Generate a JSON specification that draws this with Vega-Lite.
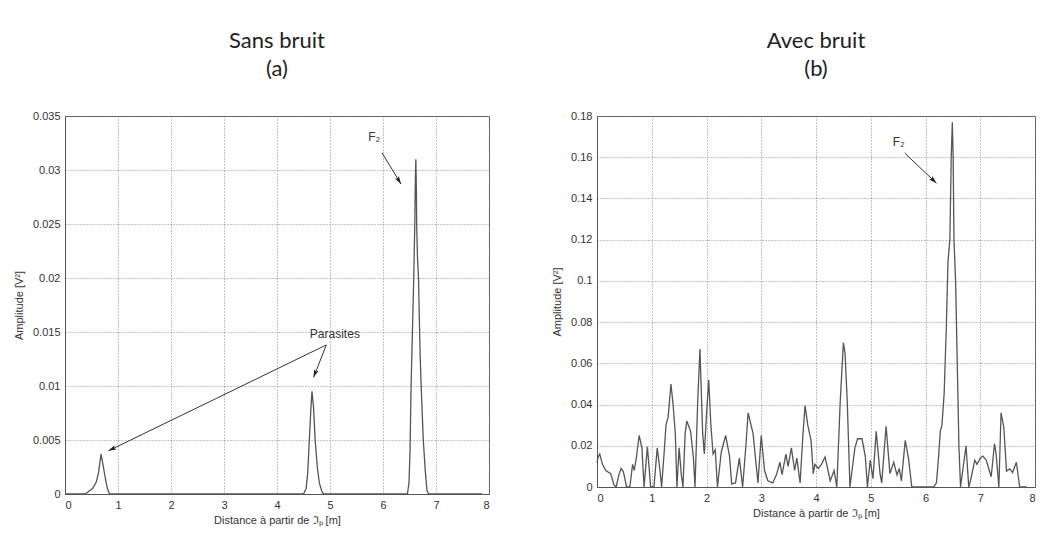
{
  "$schema": "https://vega.github.io/schema/vega-lite/v6.json",
  "padding": {"left": 12, "top": 29, "right": 0, "bottom": 5},
  "background": "white",
  "config": {
    "font": "Liberation Sans",
    "view": {"stroke": "#555", "strokeWidth": 1},
    "axis": {
      "labelFont": "Liberation Sans", "labelFontSize": 11, "labelColor": "#333",
      "titleFont": "Liberation Sans", "titleFontSize": 11, "titleFontWeight": "normal", "titleColor": "#333",
      "domainColor": "#555", "ticks": false, "labelPadding": 5,
      "gridColor": "#888", "gridDash": [1, 2], "gridOpacity": 1, "gridWidth": 1
    },
    "title": {"font": "Lato", "fontSize": 22, "fontWeight": "normal", "color": "#222", "lineHeight": 28, "anchor": "middle"}
  },
  "datasets": {
    "sans": [
      {"d": 0, "a": 0}, {"d": 0.38, "a": 0}, {"d": 0.44, "a": 0.0002}, {"d": 0.52, "a": 0.0005}, {"d": 0.59, "a": 0.0011},
      {"d": 0.63, "a": 0.0019}, {"d": 0.66, "a": 0.003}, {"d": 0.68, "a": 0.0037}, {"d": 0.71, "a": 0.0029}, {"d": 0.76, "a": 0.0015},
      {"d": 0.8, "a": 0.0005}, {"d": 0.84, "a": 0}, {"d": 4.5, "a": 0}, {"d": 4.55, "a": 0.0005}, {"d": 4.58, "a": 0.002},
      {"d": 4.61, "a": 0.005}, {"d": 4.64, "a": 0.008}, {"d": 4.66, "a": 0.0095}, {"d": 4.69, "a": 0.008}, {"d": 4.72, "a": 0.005},
      {"d": 4.76, "a": 0.0025}, {"d": 4.8, "a": 0.001}, {"d": 4.85, "a": 0.0002}, {"d": 4.88, "a": 0}, {"d": 6.46, "a": 0},
      {"d": 6.49, "a": 0.001}, {"d": 6.51, "a": 0.004}, {"d": 6.53, "a": 0.01}, {"d": 6.56, "a": 0.016}, {"d": 6.58, "a": 0.02},
      {"d": 6.6, "a": 0.025}, {"d": 6.61, "a": 0.029}, {"d": 6.62, "a": 0.031}, {"d": 6.63, "a": 0.028}, {"d": 6.635, "a": 0.025},
      {"d": 6.65, "a": 0.022}, {"d": 6.67, "a": 0.02}, {"d": 6.7, "a": 0.013}, {"d": 6.72, "a": 0.01}, {"d": 6.76, "a": 0.005},
      {"d": 6.8, "a": 0.002}, {"d": 6.83, "a": 0.0003}, {"d": 6.86, "a": 0}, {"d": 7.87, "a": 0}
    ],
    "avec": [
      {"d": 0.0, "a": 0.012}, {"d": 0.02, "a": 0.0145}, {"d": 0.05, "a": 0.016}, {"d": 0.1, "a": 0.011}, {"d": 0.16, "a": 0.008},
      {"d": 0.25, "a": 0.0065}, {"d": 0.31, "a": 0.001}, {"d": 0.35, "a": 0.0}, {"d": 0.4, "a": 0.006}, {"d": 0.44, "a": 0.009},
      {"d": 0.48, "a": 0.0075}, {"d": 0.51, "a": 0.004}, {"d": 0.54, "a": 0.0}, {"d": 0.6, "a": 0.0}, {"d": 0.65, "a": 0.011},
      {"d": 0.68, "a": 0.008}, {"d": 0.72, "a": 0.0145}, {"d": 0.77, "a": 0.025}, {"d": 0.82, "a": 0.019}, {"d": 0.86, "a": 0.0},
      {"d": 0.92, "a": 0.0195}, {"d": 0.95, "a": 0.01}, {"d": 0.98, "a": 0.0}, {"d": 1.04, "a": 0.0}, {"d": 1.1, "a": 0.019},
      {"d": 1.15, "a": 0.008}, {"d": 1.18, "a": 0.0}, {"d": 1.23, "a": 0.018}, {"d": 1.26, "a": 0.03}, {"d": 1.3, "a": 0.034},
      {"d": 1.35, "a": 0.05}, {"d": 1.39, "a": 0.04}, {"d": 1.43, "a": 0.026}, {"d": 1.46, "a": 0.0}, {"d": 1.5, "a": 0.019},
      {"d": 1.54, "a": 0.006}, {"d": 1.57, "a": 0.0}, {"d": 1.61, "a": 0.026}, {"d": 1.64, "a": 0.032}, {"d": 1.71, "a": 0.027},
      {"d": 1.76, "a": 0.0145}, {"d": 1.79, "a": 0.0}, {"d": 1.84, "a": 0.042}, {"d": 1.88, "a": 0.067}, {"d": 1.93, "a": 0.026},
      {"d": 1.96, "a": 0.016}, {"d": 2.0, "a": 0.035}, {"d": 2.04, "a": 0.052}, {"d": 2.08, "a": 0.03}, {"d": 2.12, "a": 0.016},
      {"d": 2.16, "a": 0.018}, {"d": 2.2, "a": 0.0}, {"d": 2.27, "a": 0.017}, {"d": 2.35, "a": 0.025}, {"d": 2.42, "a": 0.015},
      {"d": 2.46, "a": 0.0015}, {"d": 2.53, "a": 0.002}, {"d": 2.6, "a": 0.014}, {"d": 2.66, "a": 0.0}, {"d": 2.72, "a": 0.02},
      {"d": 2.76, "a": 0.036}, {"d": 2.85, "a": 0.026}, {"d": 2.94, "a": 0.002}, {"d": 3.0, "a": 0.025}, {"d": 3.06, "a": 0.008},
      {"d": 3.12, "a": 0.003}, {"d": 3.21, "a": 0.002}, {"d": 3.28, "a": 0.006}, {"d": 3.34, "a": 0.012}, {"d": 3.38, "a": 0.006},
      {"d": 3.45, "a": 0.016}, {"d": 3.49, "a": 0.01}, {"d": 3.55, "a": 0.019}, {"d": 3.61, "a": 0.008}, {"d": 3.65, "a": 0.014},
      {"d": 3.71, "a": 0.002}, {"d": 3.76, "a": 0.025}, {"d": 3.8, "a": 0.0395}, {"d": 3.85, "a": 0.03}, {"d": 3.91, "a": 0.0225},
      {"d": 3.95, "a": 0.0065}, {"d": 3.98, "a": 0.011}, {"d": 4.04, "a": 0.009}, {"d": 4.1, "a": 0.011}, {"d": 4.165, "a": 0.0146},
      {"d": 4.22, "a": 0.008}, {"d": 4.26, "a": 0.003}, {"d": 4.33, "a": 0.008}, {"d": 4.38, "a": 0.0}, {"d": 4.44, "a": 0.04},
      {"d": 4.5, "a": 0.07}, {"d": 4.53, "a": 0.065}, {"d": 4.57, "a": 0.042}, {"d": 4.62, "a": 0.0}, {"d": 4.71, "a": 0.019},
      {"d": 4.76, "a": 0.0234}, {"d": 4.84, "a": 0.0234}, {"d": 4.9, "a": 0.015}, {"d": 4.94, "a": 0.0}, {"d": 4.99, "a": 0.013},
      {"d": 5.04, "a": 0.004}, {"d": 5.1, "a": 0.027}, {"d": 5.17, "a": 0.0065}, {"d": 5.2, "a": 0.002}, {"d": 5.28, "a": 0.0295},
      {"d": 5.35, "a": 0.0065}, {"d": 5.42, "a": 0.012}, {"d": 5.48, "a": 0.0058}, {"d": 5.52, "a": 0.009}, {"d": 5.56, "a": 0.003},
      {"d": 5.63, "a": 0.0226}, {"d": 5.69, "a": 0.0138}, {"d": 5.75, "a": 0.0}, {"d": 5.8, "a": 0.0}, {"d": 6.15, "a": 0.0},
      {"d": 6.2, "a": 0.002}, {"d": 6.24, "a": 0.015}, {"d": 6.27, "a": 0.027}, {"d": 6.3, "a": 0.03}, {"d": 6.34, "a": 0.045},
      {"d": 6.38, "a": 0.077}, {"d": 6.41, "a": 0.109}, {"d": 6.445, "a": 0.12}, {"d": 6.47, "a": 0.16}, {"d": 6.49, "a": 0.177},
      {"d": 6.505, "a": 0.16}, {"d": 6.52, "a": 0.12}, {"d": 6.55, "a": 0.1}, {"d": 6.58, "a": 0.06}, {"d": 6.61, "a": 0.02},
      {"d": 6.64, "a": 0.0}, {"d": 6.74, "a": 0.02}, {"d": 6.79, "a": 0.0}, {"d": 6.83, "a": 0.004}, {"d": 6.9, "a": 0.013},
      {"d": 6.94, "a": 0.011}, {"d": 7.0, "a": 0.014}, {"d": 7.05, "a": 0.015}, {"d": 7.11, "a": 0.013}, {"d": 7.2, "a": 0.005},
      {"d": 7.26, "a": 0.021}, {"d": 7.29, "a": 0.016}, {"d": 7.34, "a": 0.0}, {"d": 7.38, "a": 0.036}, {"d": 7.43, "a": 0.029},
      {"d": 7.48, "a": 0.0077}, {"d": 7.54, "a": 0.0088}, {"d": 7.59, "a": 0.007}, {"d": 7.66, "a": 0.012}, {"d": 7.72, "a": 0.0},
      {"d": 7.85, "a": 0.0}
    ]
  },
  "hconcat": [
    {
      "width": 424, "height": 378,
      "title": {"text": ["Sans bruit", "(a)"], "offset": 29},
      "layer": [
        {
          "data": {"name": "sans"},
          "mark": {"type": "line", "color": "#555", "strokeWidth": 1.3},
          "encoding": {
            "x": {"field": "d", "type": "quantitative", "scale": {"domain": [0, 8], "nice": false},
                  "axis": {"values": [0, 1, 2, 3, 4, 5, 6, 7, 8], "format": "d", "title": "Distance à partir de ℑₚ [m]", "titlePadding": 4}},
            "y": {"field": "a", "type": "quantitative", "scale": {"domain": [0, 0.035], "nice": false},
                  "axis": {"values": [0, 0.005, 0.01, 0.015, 0.02, 0.025, 0.03, 0.035], "format": "~f", "title": "Amplitude [V²]", "titlePadding": 8}}
          }
        },
        {
          "data": {"values": [
            {"x1": 5.98, "y1": 0.0316, "x2": 6.34, "y2": 0.0287},
            {"x1": 4.93, "y1": 0.0138, "x2": 4.69, "y2": 0.0108},
            {"x1": 4.93, "y1": 0.0138, "x2": 0.82, "y2": 0.004}
          ]},
          "mark": {"type": "rule", "color": "#333", "strokeWidth": 1},
          "encoding": {
            "x": {"field": "x1", "type": "quantitative"}, "y": {"field": "y1", "type": "quantitative"},
            "x2": {"field": "x2"}, "y2": {"field": "y2"}
          }
        },
        {
          "data": {"values": [{"x": 6.34, "y": 0.0287}]},
          "mark": {"type": "point", "shape": "M0,0L-0.45,1.5L0,1.2L0.45,1.5Z", "size": 110, "filled": true, "color": "#222", "opacity": 1, "angle": 148},
          "encoding": {"x": {"field": "x", "type": "quantitative"}, "y": {"field": "y", "type": "quantitative"}}
        },
        {
          "data": {"values": [{"x": 4.69, "y": 0.0108}]},
          "mark": {"type": "point", "shape": "M0,0L-0.45,1.5L0,1.2L0.45,1.5Z", "size": 110, "filled": true, "color": "#222", "opacity": 1, "angle": 201},
          "encoding": {"x": {"field": "x", "type": "quantitative"}, "y": {"field": "y", "type": "quantitative"}}
        },
        {
          "data": {"values": [{"x": 0.82, "y": 0.004}]},
          "mark": {"type": "point", "shape": "M0,0L-0.45,1.5L0,1.2L0.45,1.5Z", "size": 110, "filled": true, "color": "#222", "opacity": 1, "angle": 244},
          "encoding": {"x": {"field": "x", "type": "quantitative"}, "y": {"field": "y", "type": "quantitative"}}
        },
        {
          "data": {"values": [{"x": 5.72, "y": 0.0331, "t": "F₂"}, {"x": 4.62, "y": 0.0148, "t": "Parasites"}]},
          "mark": {"type": "text", "align": "left", "baseline": "middle", "font": "Liberation Sans", "fontSize": 12, "color": "#333"},
          "encoding": {"x": {"field": "x", "type": "quantitative"}, "y": {"field": "y", "type": "quantitative"}, "text": {"field": "t"}}
        }
      ]
    },
    {
      "width": 438, "height": 371,
      "title": {"text": ["Avec bruit", "(b)"], "offset": 29},
      "layer": [
        {
          "data": {"name": "avec"},
          "mark": {"type": "line", "color": "#555", "strokeWidth": 1.3},
          "encoding": {
            "x": {"field": "d", "type": "quantitative", "scale": {"domain": [0, 8], "nice": false},
                  "axis": {"values": [0, 1, 2, 3, 4, 5, 6, 7, 8], "format": "d", "title": "Distance à partir de ℑₚ [m]", "titlePadding": 4}},
            "y": {"field": "a", "type": "quantitative", "scale": {"domain": [0, 0.18], "nice": false},
                  "axis": {"values": [0, 0.02, 0.04, 0.06, 0.08, 0.1, 0.12, 0.14, 0.16, 0.18], "format": "~f", "title": "Amplitude [V²]", "titlePadding": 8}}
          }
        },
        {
          "data": {"values": [{"x1": 5.62, "y1": 0.162, "x2": 6.2, "y2": 0.1474}]},
          "mark": {"type": "rule", "color": "#333", "strokeWidth": 1},
          "encoding": {
            "x": {"field": "x1", "type": "quantitative"}, "y": {"field": "y1", "type": "quantitative"},
            "x2": {"field": "x2"}, "y2": {"field": "y2"}
          }
        },
        {
          "data": {"values": [{"x": 6.2, "y": 0.1474}]},
          "mark": {"type": "point", "shape": "M0,0L-0.45,1.5L0,1.2L0.45,1.5Z", "size": 110, "filled": true, "color": "#222", "opacity": 1, "angle": 134},
          "encoding": {"x": {"field": "x", "type": "quantitative"}, "y": {"field": "y", "type": "quantitative"}}
        },
        {
          "data": {"values": [{"x": 5.4, "y": 0.1675, "t": "F₂"}]},
          "mark": {"type": "text", "align": "left", "baseline": "middle", "font": "Liberation Sans", "fontSize": 12, "color": "#333"},
          "encoding": {"x": {"field": "x", "type": "quantitative"}, "y": {"field": "y", "type": "quantitative"}, "text": {"field": "t"}}
        }
      ]
    }
  ],
  "spacing": 61
}
